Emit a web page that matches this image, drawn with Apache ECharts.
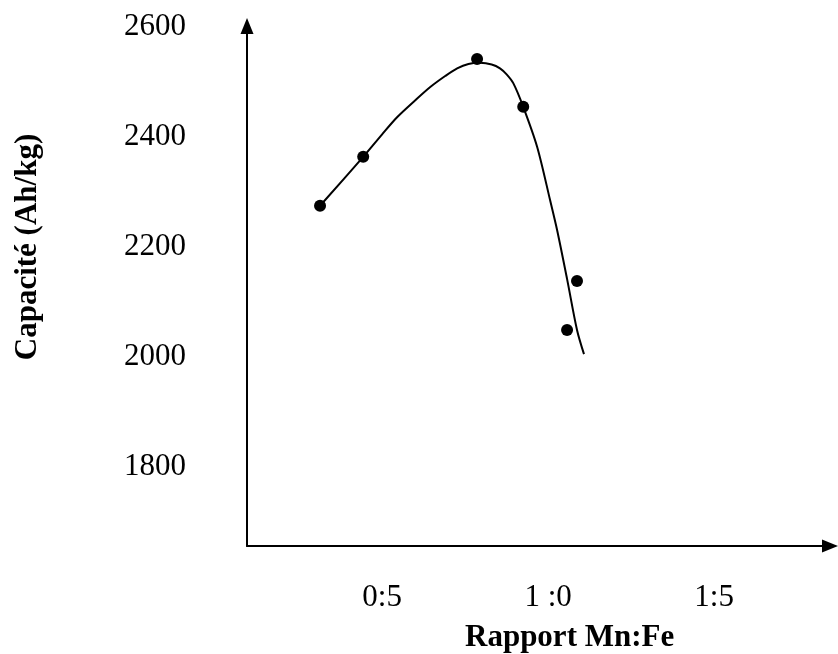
<!DOCTYPE html>
<html>
<head>
<meta charset="utf-8">
<script src="https://cdn.jsdelivr.net/npm/echarts@6/dist/echarts.min.js"></script>
<style>
  html, body { margin: 0; padding: 0; background: #fff; }
  #main { width: 838px; height: 654px; }
</style>
</head>
<body>
<div id="main"></div>
<script>
// measured points (Mn:Fe ratio, capacity Ah/kg)
var ratio = [0.313, 0.443, 0.786, 0.925, 1.057, 1.087];
var capacity = [2275, 2364, 2542, 2455, 2049, 2138];

// hand-drawn trend curve
var curveX = [0.313, 0.443, 0.50, 0.545, 0.60, 0.645, 0.69, 0.726, 0.76, 0.795, 0.83, 0.855, 0.875, 0.895, 0.925, 0.967, 1.006, 1.027, 1.057, 1.087, 1.108];
var curveY = [2275, 2364, 2405, 2436, 2467, 2491, 2511, 2525, 2533, 2535, 2532, 2525, 2514, 2498, 2455, 2382, 2285, 2231, 2142, 2049, 2005];

var yTicks = [1800, 2000, 2200, 2400, 2600];
var xTicks = [0.5, 1.0, 1.5];
var xTickLabels = { '0.5': '0:5', '1': '1 :0', '1.5': '1:5' };

var font = '"Liberation Serif", "DejaVu Serif", serif';

var chartDom = document.getElementById('main');
var myChart = echarts.init(chartDom);

var option = {
  backgroundColor: '#fff',
  animation: false,
  grid: { left: 247, right: 8, top: 26, bottom: 108 },
  xAxis: {
    type: 'value',
    min: 0.093,
    max: 1.849,
    axisLine: {
      lineStyle: { color: '#000', width: 2 },
      symbol: ['none', 'triangle'],
      symbolSize: [13, 16]
    },
    axisTick: { show: false },
    splitLine: { show: false },
    axisLabel: {
      customValues: xTicks,
      margin: 36,
      fontFamily: font,
      fontSize: 31,
      color: '#000',
      formatter: function (v) { return xTickLabels[String(v)] || ''; }
    }
  },
  yAxis: {
    type: 'value',
    min: 1656,
    max: 2602,
    axisLine: {
      show: true,
      lineStyle: { color: '#000', width: 2 },
      symbol: ['none', 'triangle'],
      symbolSize: [13, 16]
    },
    axisTick: { show: false },
    splitLine: { show: false },
    axisLabel: {
      customValues: yTicks,
      margin: 61,
      fontFamily: font,
      fontSize: 31,
      color: '#000',
      formatter: function (v) { return String(v); }
    }
  },
  graphic: [
    {
      type: 'text',
      left: 465,
      top: 622,
      style: { text: 'Rapport Mn:Fe', font: 'bold 31px ' + font, fill: '#000' }
    },
    {
      type: 'text',
      x: 28,
      y: 247,
      rotation: Math.PI / 2,
      style: {
        text: 'Capacité (Ah/kg)',
        font: 'bold 31px ' + font,
        fill: '#000',
        align: 'center',
        verticalAlign: 'middle'
      }
    }
  ],
  series: [
    {
      type: 'line',
      data: curveX.map(function (x, i) { return [x, curveY[i]]; }),
      smooth: 0.3,
      showSymbol: false,
      lineStyle: { color: '#000', width: 2 }
    },
    {
      type: 'scatter',
      data: ratio.map(function (x, i) { return [x, capacity[i]]; }),
      symbol: 'circle',
      symbolSize: 12,
      itemStyle: { color: '#000', opacity: 1 }
    }
  ]
};

option && myChart.setOption(option);
</script>
</body>
</html>
